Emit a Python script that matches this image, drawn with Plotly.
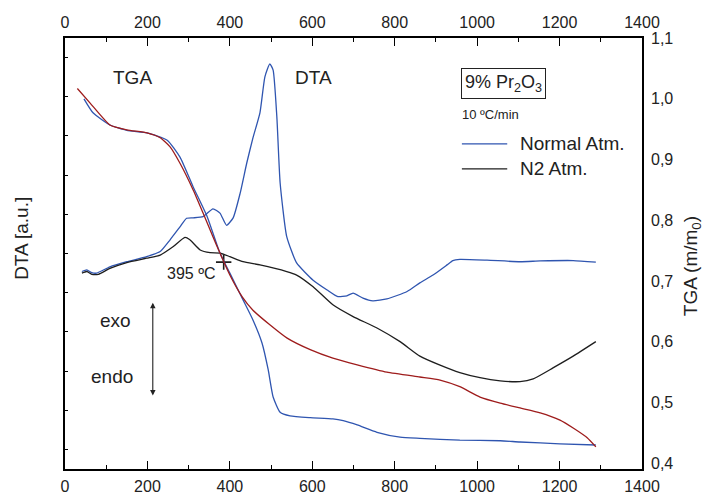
import plotly.graph_objects as go

# temperature (C) for each curve
tga_n2_T = [30, 61, 109, 150, 199, 231, 255, 279, 311, 335, 359, 376, 400, 430, 456, 497, 539, 595, 650,
            709, 781, 861, 910, 958, 1007, 1056, 1104, 1153, 1201, 1233, 1267, 1288]
tga_n2_m = [1.017, 0.993, 0.957, 0.949, 0.944, 0.936, 0.921, 0.894, 0.850, 0.812, 0.773, 0.746, 0.710, 0.674,
            0.652, 0.628, 0.606, 0.587, 0.573, 0.562, 0.550, 0.542, 0.537, 0.526, 0.509, 0.499, 0.491, 0.483,
            0.471, 0.458, 0.442, 0.427]

tga_air_T = [46, 68, 109, 150, 199, 248, 279, 311, 345, 376, 400, 432, 456, 478, 493, 505, 522, 546, 595,
             650, 675, 709, 757, 813, 861, 958, 1056, 1104, 1201, 1288]
tga_air_m = [1.000, 0.977, 0.957, 0.948, 0.944, 0.932, 0.904, 0.855, 0.806, 0.746, 0.713, 0.669, 0.636, 0.598,
             0.554, 0.509, 0.484, 0.478, 0.475, 0.473, 0.470, 0.463, 0.451, 0.443, 0.441, 0.438, 0.437, 0.435,
             0.432, 0.430]

dta_air_T = [41, 53, 65, 77, 109, 150, 198, 231, 255, 279, 295, 311, 335, 359, 376, 392, 408, 425, 441, 456,
             473, 485, 497, 505, 514, 522, 538, 562, 602, 636, 662, 684, 699, 723, 747, 781, 830, 861, 893,
             927, 941, 958, 1024, 1104, 1153, 1233, 1288]
dta_air_v = [4.54, 4.58, 4.51, 4.50, 4.66, 4.79, 4.92, 5.05, 5.35, 5.68, 5.90, 5.91, 5.94, 6.14, 6.03, 5.72,
             5.91, 6.54, 7.31, 7.95, 8.59, 9.51, 9.84, 9.68, 8.49, 6.80, 5.43, 4.76, 4.32, 4.07, 3.90, 3.92,
             3.99, 3.86, 3.79, 3.84, 4.03, 4.25, 4.45, 4.71, 4.82, 4.85, 4.83, 4.79, 4.81, 4.82, 4.78]

dta_n2_T = [41, 53, 65, 81, 109, 150, 198, 231, 262, 291, 303, 328, 352, 376, 400, 432, 473, 538, 562, 602,
            650, 699, 757, 813, 861, 910, 958, 1007, 1056, 1104, 1136, 1184, 1233, 1288]
dta_n2_v = [4.50, 4.54, 4.47, 4.47, 4.62, 4.77, 4.88, 4.96, 5.17, 5.41, 5.35, 5.09, 5.02, 5.01, 4.92, 4.79,
            4.71, 4.54, 4.45, 4.15, 3.69, 3.39, 3.10, 2.75, 2.38, 2.15, 1.96, 1.83, 1.75, 1.73, 1.80, 2.08,
            2.38, 2.75]

cross_T = [385]
cross_v = [4.78]

x_ticks = [0, 200, 400, 600, 800, 1000, 1200, 1400]
tga_ticks = [0.4, 0.5, 0.6, 0.7, 0.8, 0.9, 1.0, 1.1]
tga_labels = ["0,4", "0,5", "0,6", "0,7", "0,8", "0,9", "1,0", "1,1"]
dta_ticks = list(range(0, 11))

BLUE = "#2f55b0"
RED = "#9e1c1c"
BLACK = "#1e1e1e"
FONT = "Arial, Liberation Sans, sans-serif"

fig = go.Figure()
line_opts = dict(width=1.3, shape="spline", smoothing=0.5)
fig.add_trace(go.Scatter(x=dta_air_T, y=dta_air_v, mode="lines", line=dict(color=BLUE, **line_opts)))
fig.add_trace(go.Scatter(x=dta_n2_T, y=dta_n2_v, mode="lines", line=dict(color=BLACK, **line_opts)))
fig.add_trace(go.Scatter(x=tga_air_T, y=tga_air_m, mode="lines", xaxis="x2", yaxis="y2",
                         line=dict(color=BLUE, **line_opts)))
fig.add_trace(go.Scatter(x=tga_n2_T, y=tga_n2_m, mode="lines", xaxis="x2", yaxis="y2",
                         line=dict(color=RED, **line_opts)))
fig.add_trace(go.Scatter(x=cross_T, y=cross_v, mode="markers",
                         marker=dict(symbol="cross-thin", size=11, line=dict(color=BLACK, width=1.6))))

tick_font = dict(family=FONT, size=16, color="#222")
fig.update_layout(
    template="none",
    width=707, height=494,
    margin=dict(l=65, r=65, t=38, b=25, pad=0),
    paper_bgcolor="white", plot_bgcolor="white",
    showlegend=False,
    font=dict(family=FONT, color="#222"),
    xaxis=dict(range=[0, 1400], tickvals=x_ticks, ticks="inside", ticklen=8, tickwidth=1.3,
               tickcolor="black", ticklabelstandoff=2,
               minor=dict(dtick=100, ticks="inside", ticklen=4, tickwidth=1.3, tickcolor="black"),
               showline=True, linewidth=1.8, linecolor="black", mirror="ticks", automargin=False,
               showgrid=False, zeroline=False, tickfont=tick_font),
    xaxis2=dict(range=[0, 1400], tickvals=x_ticks, overlaying="x", side="top", ticks="",
                ticklabelstandoff=6, automargin=False,
                showgrid=False, zeroline=False, tickfont=tick_font, anchor="y"),
    yaxis=dict(range=[-0.5, 10.5], tickvals=dta_ticks, ticks="inside", ticklen=3, tickwidth=1.2,
               tickcolor="black", automargin=False,
               showticklabels=False, showline=True, linewidth=1.8, linecolor="black", mirror=True,
               showgrid=False, zeroline=False),
    yaxis2=dict(range=[0.3905, 1.1002], tickvals=tga_ticks, ticktext=tga_labels, overlaying="y",
                side="right", ticks="", ticklabelstandoff=8, automargin=False,
                showgrid=False, zeroline=False, tickfont=tick_font, anchor="x2"),
    yaxis3=dict(range=[-0.5, 10.5], tickvals=dta_ticks, overlaying="y", side="right", anchor="x",
                ticks="inside", ticklen=7, tickwidth=1.3, tickcolor="black", automargin=False,
                showticklabels=False, showgrid=False, zeroline=False, showline=False),
)

ann_font = dict(family=FONT, size=19, color="#222")
fig.add_annotation(x=164, y=9.5, text="TGA", showarrow=False, font=ann_font)
fig.add_annotation(x=602, y=9.5, text="DTA", showarrow=False, font=ann_font)
fig.add_annotation(x=1063, y=9.33, text="9% Pr<sub>2</sub>O<sub>3</sub>", showarrow=False,
                   font=dict(family=FONT, size=18, color="#222"),
                   bordercolor="#222", borderwidth=1, borderpad=3, bgcolor="white")
fig.add_annotation(x=958, y=8.54, text="10 ºC/min", showarrow=False, xanchor="left",
                   font=dict(family=FONT, size=13, color="#222"))
fig.add_annotation(x=1099, y=7.8, text="Normal Atm.", showarrow=False, xanchor="left", font=ann_font)
fig.add_annotation(x=1099, y=7.16, text="N2 Atm.", showarrow=False, xanchor="left", font=ann_font)
fig.add_shape(type="line", x0=963, x1=1073, y0=7.8, y1=7.8, line=dict(color=BLUE, width=1.3))
fig.add_shape(type="line", x0=963, x1=1073, y0=7.16, y1=7.16, line=dict(color=BLACK, width=1.3))
fig.add_annotation(x=371, y=4.48, text="395 ºC", showarrow=False, xanchor="right",
                   font=dict(family=FONT, size=16, color="#222"))
fig.add_annotation(x=165, y=3.30, text="exo", showarrow=False, xanchor="right", font=ann_font)
fig.add_annotation(x=170, y=1.87, text="endo", showarrow=False, xanchor="right", font=ann_font)
fig.add_annotation(x=213, y=3.74, ax=213, ay=1.34, axref="x", ayref="y", text="", showarrow=True,
                   arrowhead=2, arrowside="end+start", arrowsize=1, arrowwidth=1.1, arrowcolor="#222")

fig.add_annotation(x=-0.0745, y=0.534, xref="paper", yref="paper", text="DTA [a.u.]", textangle=-90,
                   xanchor="center", yanchor="middle", showarrow=False, font=ann_font)
fig.add_annotation(x=1.087, y=0.471, xref="paper", yref="paper", text="TGA (m/m<sub>0</sub>)", textangle=-90,
                   xanchor="center", yanchor="middle", showarrow=False, font=ann_font)

# the page body has a default 8px margin; drop it so the figure fills the window
fig.write_html("out.html", config={"displayModeBar": False},
               post_script="document.body.style.margin='0px';")
